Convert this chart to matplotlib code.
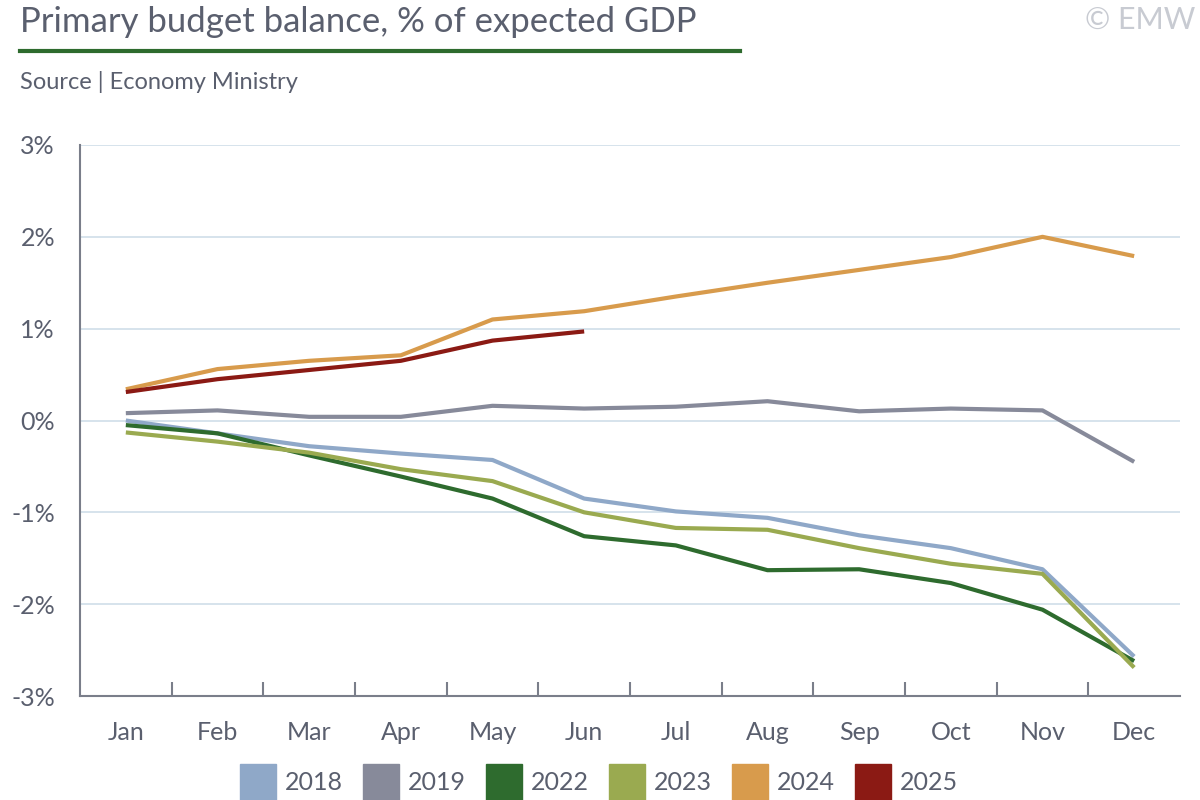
import matplotlib.pyplot as plt
from matplotlib.lines import Line2D

# data
months = ['Jan','Feb','Mar','Apr','May','Jun','Jul','Aug','Sep','Oct','Nov','Dec']
y2018 = [0.0,-0.14,-0.28,-0.36,-0.43,-0.85,-0.99,-1.06,-1.25,-1.39,-1.62,-2.57]
y2019 = [0.08,0.11,0.04,0.04,0.16,0.13,0.15,0.21,0.10,0.13,0.11,-0.45]
y2022 = [-0.05,-0.14,-0.38,-0.61,-0.85,-1.26,-1.36,-1.63,-1.62,-1.77,-2.06,-2.62]
y2023 = [-0.13,-0.23,-0.35,-0.53,-0.66,-1.0,-1.17,-1.19,-1.39,-1.56,-1.67,-2.69]
y2024 = [0.34,0.56,0.65,0.71,1.10,1.19,1.35,1.50,1.64,1.78,2.0,1.79]
y2025 = [0.31,0.45,0.55,0.65,0.87,0.97]

series = [('2018',y2018,'#8fa8c8'),('2019',y2019,'#878a9a'),('2022',y2022,'#2e6b2e'),
          ('2023',y2023,'#9aaa50'),('2024',y2024,'#d89b4c'),('2025',y2025,'#8b1a14')]

plt.rcParams['font.family'] = ['Lato', 'DejaVu Sans']
txt = '#5a5f6e'
fig = plt.figure(figsize=(12,8), dpi=100)
ax = fig.add_axes([80/1200, 1-696/800, 1100/1200, 551/800])

for name, vals, col in series:
    ax.plot(range(len(vals)), vals, color=col, lw=3, solid_capstyle='butt')

ax.set_xlim(-0.5, 11.5)
ax.set_ylim(-3, 3)
ax.set_yticks(range(-3,4))
ax.set_yticklabels(['%d%%' % v for v in range(-3,4)], fontsize=18, color=txt)
ax.set_xticks(range(12))
ax.set_xticklabels(months, fontsize=18, color=txt)
for g in range(-2,4):
    ax.axhline(g, color='#d3e0ea', lw=1.3, zorder=0)
for s in ['top','right']:
    ax.spines[s].set_visible(False)
for s in ['left','bottom']:
    ax.spines[s].set_color('#7a7e8a')
    ax.spines[s].set_linewidth(1.5)
ax.tick_params(axis='y', direction='out', length=0, pad=18)
ax.set_xticks([i+0.5 for i in range(11)], minor=True)
ax.tick_params(axis='x', which='major', length=0, pad=18)
ax.tick_params(axis='x', which='minor', direction='in', length=10, color='#7a7e8a', width=1.5)

fig.text(20/1200, 1-22/800, 'Primary budget balance, % of expected GDP', fontsize=25,
         color=txt, va='center')
fig.add_artist(Line2D([20/1200, 740/1200], [1-51/800]*2, color='#2e6b2e', lw=3))
fig.text(20/1200, 1-82/800, 'Source | Economy Ministry', fontsize=17, color=txt, va='center')
fig.text(1195/1200, 1-20/800, '© EMW', fontsize=22, color='#c8cbd2', va='center', ha='right')

handles = [Line2D([], [], color=c, lw=0, marker='s', markersize=26) for _, _, c in series]
fig.legend(handles, [n for n, _, _ in series], loc='center', bbox_to_anchor=(0.5, 1-783/800),
           ncol=6, frameon=False, fontsize=18, handletextpad=0.4, columnspacing=0.9,
           labelcolor=txt, handlelength=1.3)

plt.savefig('out.png', dpi=100)
